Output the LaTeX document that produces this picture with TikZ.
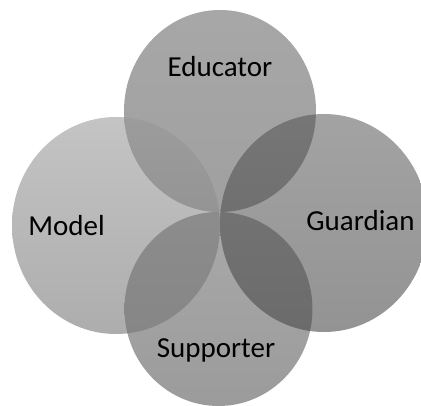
\documentclass[tikz,border=0pt]{standalone}
\usepackage{fontspec}
\setmainfont{Carlito}
\definecolor{eduTop}{HTML}{A7A7A7}
\definecolor{eduBot}{HTML}{A0A0A0}
\definecolor{modTop}{HTML}{C4C4C4}
\definecolor{modBot}{HTML}{ADADAD}
\definecolor{guaTop}{HTML}{A3A3A3}
\definecolor{guaBot}{HTML}{939393}
\definecolor{supTop}{HTML}{A9A9A9}
\definecolor{supBot}{HTML}{9B9B9B}
\definecolor{emTop}{HTML}{9C9C9C}
\definecolor{emBot}{HTML}{8A8A8A}
\definecolor{egTop}{HTML}{767676}
\definecolor{egBot}{HTML}{686868}
\definecolor{msTop}{HTML}{919191}
\definecolor{msBot}{HTML}{868686}
\definecolor{gsTop}{HTML}{787878}
\definecolor{gsBot}{HTML}{6B6B6B}
\tikzset{
  label text/.style={font=\fontsize{29}{31}\selectfont, text=black, anchor=base, inner sep=0pt},
}
% circle paths: centre and radii
\def\eduPath{(220pt,294pt) ellipse [x radius=96pt, y radius=101pt]}
\def\modPath{(116pt,179.5pt) ellipse [x radius=104pt, y radius=108.5pt]}
\def\guaPath{(324pt,182pt) ellipse [x radius=104pt, y radius=109pt]}
\def\supPath{(218.5pt,96pt) ellipse [x radius=94pt, y radius=97pt]}
\begin{document}
\begin{tikzpicture}[x=1pt,y=1pt]
\useasboundingbox (0,0) rectangle (421,405);
\fill[white] (0,0) rectangle (421,405);
% the four circles
\shade[top color=modTop, bottom color=modBot] \modPath;
\shade[top color=guaTop, bottom color=guaBot] \guaPath;
\shade[top color=eduTop, bottom color=eduBot] \eduPath;
\shade[top color=supTop, bottom color=supBot] \supPath;
% overlapping lenses
\begin{scope}
  \clip \eduPath;
  \shade[top color=emTop, bottom color=emBot] \modPath;
  \shade[top color=egTop, bottom color=egBot] \guaPath;
\end{scope}
\begin{scope}
  \clip \supPath;
  \shade[top color=msTop, bottom color=msBot] \modPath;
  \shade[top color=gsTop, bottom color=gsBot] \guaPath;
\end{scope}
% labels
\node[label text] (educator) at (220,328) {Educator};
\node[label text] (model) at (66.5,169) {Model};
\node[label text] (guardian) at (360.5,174) {Guardian};
\node[label text] (supporter) at (216,48) {Supporter};
\end{tikzpicture}
\end{document}
